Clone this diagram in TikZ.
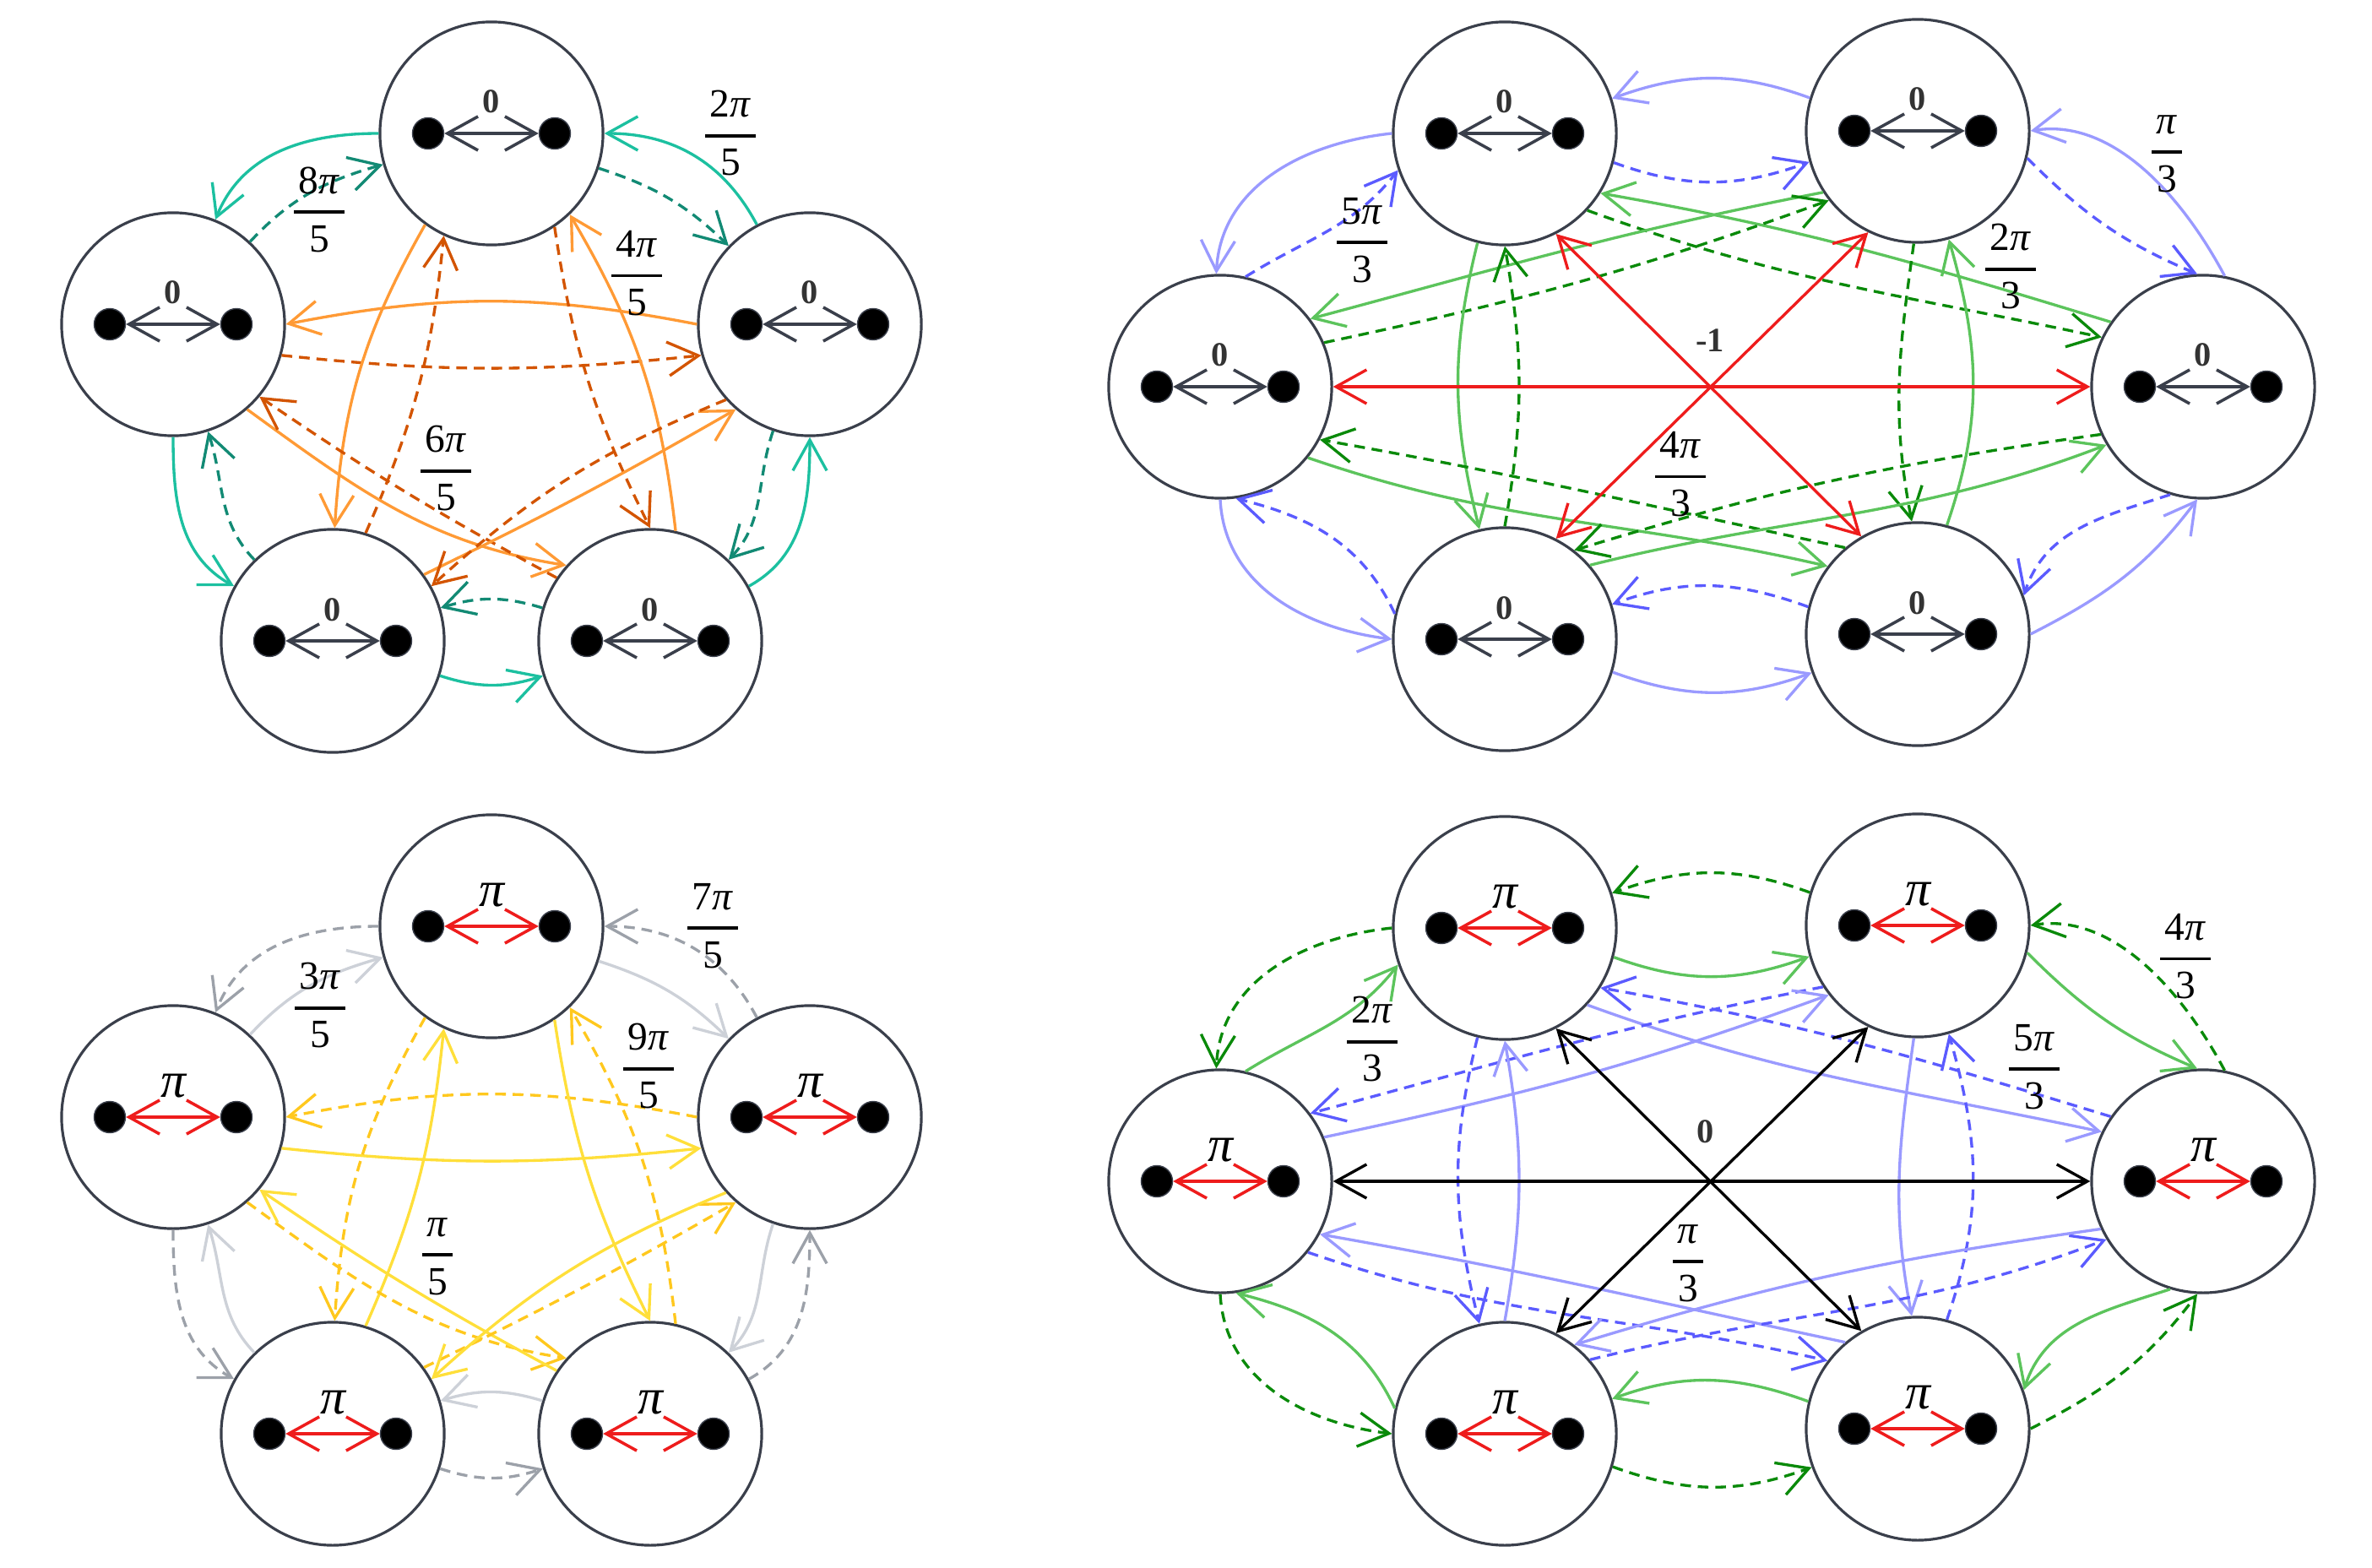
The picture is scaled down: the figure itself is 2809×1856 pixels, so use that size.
\documentclass[tikz,border=0pt]{standalone}
\usepackage{amsmath}
\usepackage{fontspec}
\setmainfont{Liberation Serif}
\usetikzlibrary{arrows.meta}

\definecolor{cbord}{HTML}{3A3F4B}
\definecolor{txt0}{HTML}{333333}
\definecolor{teal1}{HTML}{1CC0A0}
\definecolor{teal2}{HTML}{128A74}
\definecolor{orng1}{HTML}{FF9A35}
\definecolor{orng2}{HTML}{D35400}
\definecolor{gray1}{HTML}{CDD1D8}
\definecolor{gray2}{HTML}{9CA1A9}
\definecolor{yel1}{HTML}{FFDF3A}
\definecolor{gold2}{HTML}{FFC81E}
\definecolor{lblue}{HTML}{9A9AFF}
\definecolor{dblue}{HTML}{5B5BFF}
\definecolor{lgreen}{HTML}{5CC45C}
\definecolor{dgreen}{HTML}{0A8A0A}
\definecolor{red1}{HTML}{EE1C1C}

\tikzset{
  st/.style={circle, draw=cbord, line width=0.9pt, fill=white, minimum size=2.64cm, inner sep=0pt},
  dotn/.style={circle, draw=cbord, line width=0.4pt, fill=black, minimum size=0.37cm, inner sep=0pt},
  narr/.style={line width=1pt, <->},
  lab/.style={anchor=base, inner sep=0pt},
  frl/.style={inner sep=0pt},
  edge/.style={line width=0.95pt, ->},
  dsh/.style={dash pattern=on 3.6pt off 2.3pt},
  p1o/.style={edge, draw=teal1},
  p1i/.style={edge, dsh, draw=teal2},
  p1a/.style={edge, draw=orng1},
  p1b/.style={edge, dsh, draw=orng2},
  p3o/.style={edge, dsh, draw=gray2},
  p3i/.style={edge, draw=gray1},
  p3a/.style={edge, dsh, draw=gold2},
  p3b/.style={edge, draw=yel1},
  p2o/.style={edge, draw=lblue},
  p2i/.style={edge, dsh, draw=dblue},
  p2a/.style={edge, draw=lgreen},
  p2b/.style={edge, dsh, draw=dgreen},
  p2c/.style={line width=0.95pt, <->, draw=red1},
  p4o/.style={edge, dsh, draw=dgreen},
  p4i/.style={edge, draw=lgreen},
  p4a/.style={edge, dsh, draw=dblue},
  p4b/.style={edge, draw=lblue},
  p4c/.style={line width=0.95pt, <->, draw=black},
}

\newcommand\frc[2]{{\fontsize{13.5}{15}\selectfont$\genfrac{}{}{1.1pt}{0}{\mbox{\kern1.5pt#1\kern1.5pt}}{\mbox{#2}}$}}
\newcommand\labzero{{\fontsize{11.5}{13}\selectfont\bfseries\color{txt0}0}}
\newcommand\labpi{{\fontsize{17}{19}\selectfont\itshape π}}

\newcommand\stnode[5]{%
  \node[st] (#1) at (#2,#3) {};
  \node[dotn] (#1a) at (#2-75,#3) {};
  \node[dotn] (#1b) at (#2+75,#3) {};
  \draw[narr,draw=#5] (#1a) -- (#1b);
  \node[lab] (#1t) at (#2,#3+24) {#4};
}

\newcommand\pentagon[8]{%
  \stnode{#1T}{582}{1698-#2}{#3}{#4}
  \stnode{#1L}{205}{1472-#2}{#3}{#4}
  \stnode{#1R}{959}{1472-#2}{#3}{#4}
  \stnode{#1BL}{394}{1097-#2}{#3}{#4}
  \stnode{#1BR}{770}{1097-#2}{#3}{#4}
  \draw[#5] (#1R.118) to[out=118,in=0] (#1T.0);
  \draw[#5] (#1T.180) to[out=180,in=68] (#1L.68);
  \draw[#5] (#1L.270) to[out=270,in=151] (#1BL.151);
  \draw[#5] (#1BL.-18) to[out=-18,in=198] (#1BR.198);
  \draw[#5] (#1BR.29) to[out=29,in=270] (#1R.270);
  \draw[#6] (#1T.-18) to[out=-18,in=136] (#1R.136);
  \draw[#6] (#1L.47) to[out=47,in=196] (#1T.196);
  \draw[#6] (#1BL.134) to[out=134,in=-72] (#1L.-72);
  \draw[#6] (#1BR.163) to[out=163,in=17] (#1BL.17);
  \draw[#6] (#1R.-109) to[out=-109,in=46] (#1BR.46);
  \draw[#7] (#1R.180) to[bend right=11] (#1L.0);
  \draw[#8] (#1L.-16) to[bend right=6] (#1R.196);
  \draw[#7] (#1T.234) to[bend right=13] (#1BL.89);
  \draw[#8] (#1BL.73) to[bend right=9] (#1T.245);
  \draw[#8] (#1T.304) to[bend right=9] (#1BR.90);
  \draw[#7] (#1BR.77) to[bend right=12] (#1T.-46);
  \draw[#7] (#1L.-49) to[out=-36,in=171] (#1BR.138);
  \draw[#8] (#1BR.146) to[bend left=3] (#1L.-40);
  \draw[#7] (#1BL.36) to[bend right=2] (#1R.229);
  \draw[#8] (#1R.222) to[bend right=10] (#1BL.29);
}

\newcommand\hexagon[9]{%
  \stnode{#1TL}{1782}{1698-#2}{#3}{#4}
  \stnode{#1TR}{2271}{1701-#2}{#3}{#4}
  \stnode{#1L}{1445}{1398-#2}{#3}{#4}
  \stnode{#1R}{2609}{1398-#2}{#3}{#4}
  \stnode{#1BL}{1782}{1099-#2}{#3}{#4}
  \stnode{#1BR}{2271}{1105-#2}{#3}{#4}
  \draw[#5] (#1TR.163) to[out=160,in=20] (#1TL.18);
  \draw[#5] (#1TL.180) to[out=186,in=87] (#1L.92);
  \draw[#5] (#1L.270) to[out=273,in=173] (#1BL.180);
  \draw[#5] (#1BL.-17) to[out=-20,in=200] (#1BR.200);
  \draw[#5] (#1BR.0) to[out=27,in=233] (#1R.267);
  \draw[#5] (#1R.79) to[out=118,in=9,looseness=0.9] (#1TR.0);
  \draw[#6] (#1TL.-15) to[out=-20,in=200] (#1TR.196);
  \draw[#6] (#1TR.-14) to[out=-45,in=157] (#1R.93);
  \draw[#6] (#1R.253) to[out=198,in=72] (#1BR.20);
  \draw[#6] (#1BR.166) to[out=160,in=20] (#1BL.18);
  \draw[#6] (#1BL.167) to[out=115,in=346] (#1L.-82);
  \draw[#6] (#1L.77) to[out=32,in=232] (#1TL.199);
  \draw[#7] (#1R.145) to[out=163,in=-10] (#1TL.-32);
  \draw[#8] (#1TL.-43) to[out=-20,in=168] (#1R.154);
  \draw[#7] (#1TR.213) to[out=191,in=15] (#1L.37);
  \draw[#8] (#1L.23) to[out=12,in=200] (#1TR.218);
  \draw[#7] (#1TL.256) to[out=256,in=104] (#1BL.103);
  \draw[#8] (#1BL.90) to[out=80,in=280] (#1TL.270);
  \draw[#8] (#1TR.268) to[out=262,in=101] (#1BR.93);
  \draw[#7] (#1BR.75) to[out=71,in=286] (#1TR.286);
  \draw[#7] (#1L.-39) to[out=-19,in=167] (#1BR.143);
  \draw[#8] (#1BR.130) to[out=168,in=-10] (#1L.-28);
  \draw[#7] (#1BL.41) to[out=14,in=201] (#1R.211);
  \draw[#8] (#1R.205) to[out=188,in=17] (#1BL.52);
  \draw[#9] (#1TL.297) -- (#1BR.120);
  \draw[#9] (#1TR.244) -- (#1BL.63);
  \draw[#9] (#1L.0) -- (#1R.180);
}

\begin{document}
\begin{tikzpicture}[x=0.01cm, y=0.01cm, >={Straight Barb[length=10.3pt,width=11.4pt]}]
\useasboundingbox (0,0) rectangle (2809,1856);

\pentagon{a}{0}{\labzero}{cbord}{p1o}{p1i}{p1a}{p1b}
\pentagon{c}{939}{\labpi}{red1}{p3o}{p3i}{p3a}{p3b}
\hexagon{b}{0}{\labzero}{cbord}{p2o}{p2i}{p2a}{p2b}{p2c}
\hexagon{d}{941}{\labpi}{red1}{p4o}{p4i}{p4a}{p4b}{p4c}

% panel 1 labels
\node[frl] (f1a) at (865,1698) {\frc{2\textit{π}}{5}};
\node[frl] (f1b) at (378,1608) {\frc{8\textit{π}}{5}};
\node[frl] (f1c) at (754,1532) {\frc{4\textit{π}}{5}};
\node[frl] (f1d) at (528,1301) {\frc{6\textit{π}}{5}};
% panel 3 labels
\node[frl] (f3a) at (844,759) {\frc{7\textit{π}}{5}};
\node[frl] (f3b) at (379,665) {\frc{3\textit{π}}{5}};
\node[frl] (f3c) at (768,593) {\frc{9\textit{π}}{5}};
\node[frl] (f3d) at (518,368) {\frc{\textit{π}}{5}};
% panel 2 labels
\node[frl] (f2a) at (1613,1571) {\frc{5\textit{π}}{3}};
\node[frl] (f2b) at (2566,1674) {\frc{\textit{π}}{3}};
\node[frl] (f2c) at (2381,1540) {\frc{2\textit{π}}{3}};
\node[frl] (f2d) at (1990,1294) {\frc{4\textit{π}}{3}};
\node[frl] (f2e) at (2025,1453) {{\fontsize{11.5}{13}\selectfont\bfseries\color{txt0}-1}};
% panel 4 labels
\node[frl] (f4a) at (1625,625) {\frc{2\textit{π}}{3}};
\node[frl] (f4b) at (2588,723) {\frc{4\textit{π}}{3}};
\node[frl] (f4c) at (2409,592) {\frc{5\textit{π}}{3}};
\node[frl] (f4d) at (1999,360) {\frc{\textit{π}}{3}};
\node[frl] (f4e) at (2020,516) {{\fontsize{11.5}{13}\selectfont\bfseries\color{txt0}0}};
\end{tikzpicture}
\end{document}
